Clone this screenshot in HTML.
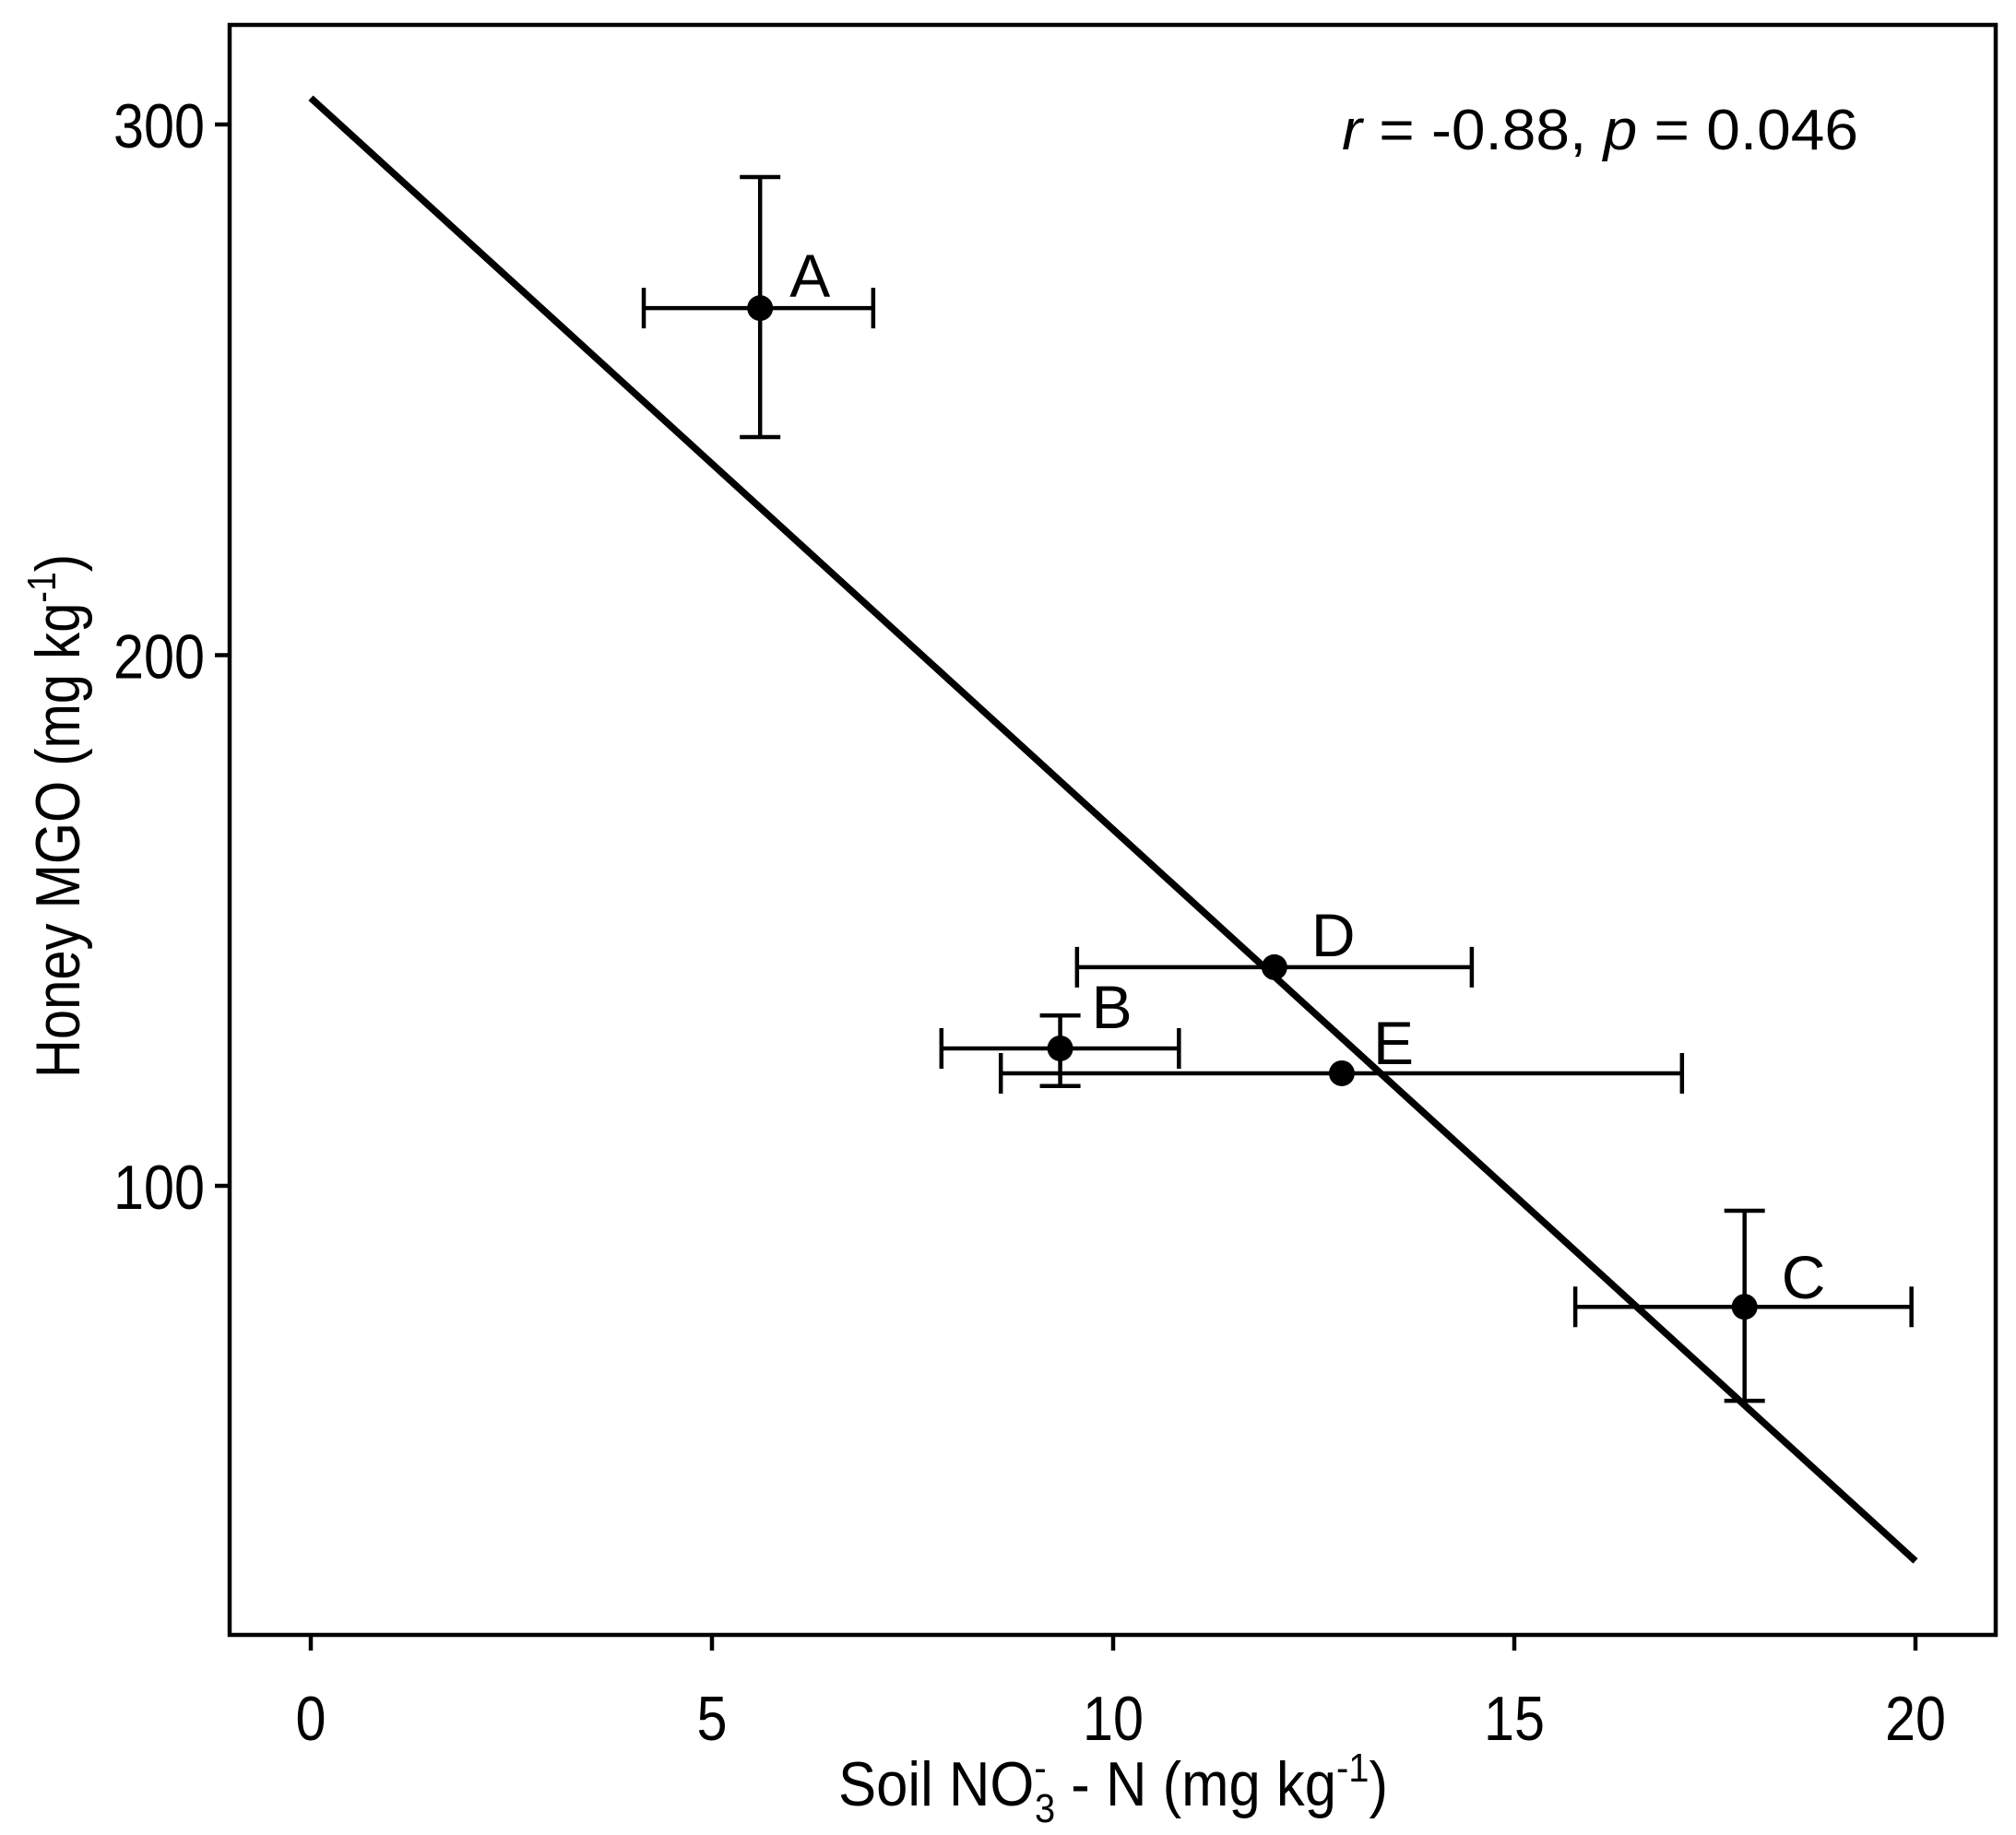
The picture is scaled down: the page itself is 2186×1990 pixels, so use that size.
<!DOCTYPE html>
<html><head><meta charset="utf-8"><style>
html,body{margin:0;padding:0;background:#fff;}
svg{display:block;font-family:"Liberation Sans",Arial,sans-serif;}
</style></head><body>
<svg id="chart" width="2186" height="1990" viewBox="0 0 2186 1990" xmlns="http://www.w3.org/2000/svg">
<rect x="0" y="0" width="2186" height="1990" fill="#fff"/>
<g id="marks"></g>
<rect x="249" y="27" width="1915" height="1746" fill="none" stroke="#000" stroke-width="4.5"/>
<g id="axes"></g>
<text x="1455" y="162" font-size="62" textLength="560" lengthAdjust="spacingAndGlyphs"><tspan font-style="italic">r</tspan> = -0.88, <tspan font-style="italic">p</tspan> = 0.046</text>
<text x="909" y="1958" font-size="68" textLength="596" lengthAdjust="spacingAndGlyphs">Soil NO<tspan dy="-26" font-size="44">-</tspan><tspan dx="-14" dy="44" font-size="44">3</tspan><tspan dy="-18"> - N (mg kg</tspan><tspan dy="-26" font-size="44">-1</tspan><tspan dy="26">)</tspan></text>
<text transform="translate(86,1169) rotate(-90)" x="0" y="0" font-size="68" textLength="568" lengthAdjust="spacingAndGlyphs">Honey MGO (mg kg<tspan dy="-26" font-size="44">-1</tspan><tspan dy="26">)</tspan></text>
</svg>
<script>
const categories = ["A","B","C","D","E"];
const xValues = [5.60, 9.34, 17.87, 12.01, 12.85];
const yValues = [265.4, 125.9, 77.2, 141.2, 121.2];
const xLow = [4.15, 7.86, 15.76, 9.55, 8.60];
const xHigh = [7.01, 10.82, 19.95, 14.47, 17.09];
const yLow = [241.1, 118.8, 59.5, 141.2, 121.2];
const yHigh = [290.1, 132.1, 95.3, 141.2, 121.2];
const fitX = [0, 20];
const fitY = [305.0, 29.3];
const xTicks = [0, 5, 10, 15, 20];
const yTicks = [100, 200, 300];

const NS = "http://www.w3.org/2000/svg";
function sx(v){ return 337 + v * 87; }
function sy(v){ return 1286 - (v - 100) * 5.755; }
function mk(tag, attrs, parent){
  const e = document.createElementNS(NS, tag);
  for (const k in attrs) e.setAttribute(k, attrs[k]);
  parent.appendChild(e);
  return e;
}
const marks = document.getElementById('marks');
const axes = document.getElementById('axes');

let fl = mk('line', {x1: sx(fitX[0]), y1: sy(fitY[0]), x2: sx(fitX[1]), y2: sy(fitY[1]), stroke:'#000', 'stroke-width':7.5}, marks);



const cap = 22;
const labelDx = [32, 34, 40, 40, 34];
const labelDy = [-12, -22, -9, -12, -10];
categories.forEach((c, i) => {
  const g = mk('g', {}, marks);
  
  
  const cx = sx(xValues[i]), cy = sy(yValues[i]);
  const st = {stroke:'#000', 'stroke-width':4.5};
  mk('line', Object.assign({x1: sx(xLow[i]), y1: cy, x2: sx(xHigh[i]), y2: cy}, st), g);
  mk('line', Object.assign({x1: sx(xLow[i]), y1: cy - cap, x2: sx(xLow[i]), y2: cy + cap}, st), g);
  mk('line', Object.assign({x1: sx(xHigh[i]), y1: cy - cap, x2: sx(xHigh[i]), y2: cy + cap}, st), g);
  if (yHigh[i] - yLow[i] > 1) {
    mk('line', Object.assign({x1: cx, y1: sy(yLow[i]), x2: cx, y2: sy(yHigh[i])}, st), g);
    mk('line', Object.assign({x1: cx - cap, y1: sy(yLow[i]), x2: cx + cap, y2: sy(yLow[i])}, st), g);
    mk('line', Object.assign({x1: cx - cap, y1: sy(yHigh[i]), x2: cx + cap, y2: sy(yHigh[i])}, st), g);
  }
  mk('circle', {cx: cx, cy: cy, r: 14, fill:'#000'}, g);
  const t = mk('text', {x: cx + labelDx[i], y: cy + labelDy[i], 'font-size': 66}, g);
  t.textContent = c;
  
  
});

xTicks.forEach(v => {
  const l = mk('line', {x1: sx(v), y1: 1773, x2: sx(v), y2: 1790, stroke:'#000', 'stroke-width':4.5}, axes);
  
  
  const s = String(v);
  const t = mk('text', {x: sx(v), y: 1887, 'font-size': 68, 'text-anchor':'middle', textLength: 33 * s.length, lengthAdjust: 'spacingAndGlyphs'}, axes);
  t.textContent = s;
  
  
});
yTicks.forEach(v => {
  const l = mk('line', {x1: 233, y1: sy(v), x2: 249, y2: sy(v), stroke:'#000', 'stroke-width':4.5}, axes);
  
  
  const t = mk('text', {x: 222, y: sy(v) + 25, 'font-size': 68, 'text-anchor':'end', textLength: 99, lengthAdjust: 'spacingAndGlyphs'}, axes);
  t.textContent = String(v);
  
  
});
</script>
</body></html>
